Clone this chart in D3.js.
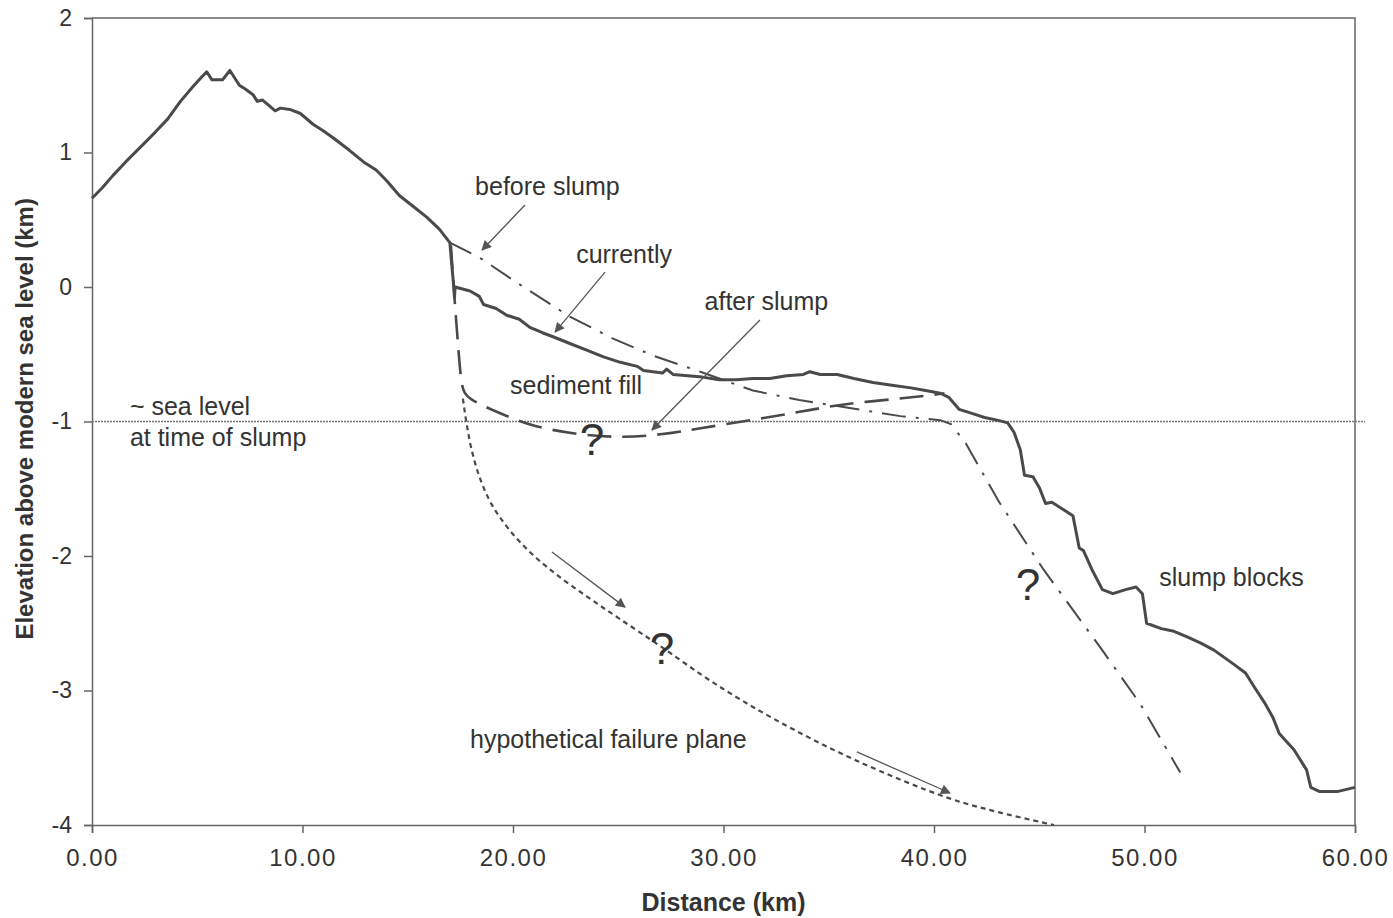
<!DOCTYPE html>
<html>
<head>
<meta charset="utf-8">
<script src="https://cdn.jsdelivr.net/npm/d3@7"></script>
<style>
  body { margin: 0; background: #fff; }
  svg { display: block; }
  text { font-family: "Liberation Sans", Arial, sans-serif; fill: #333; }
</style>
</head>
<body>
<svg width="1393" height="918"></svg>
<script>
const width = 1393;
const height = 918;
const margin = { top: 18, right: 38, bottom: 93, left: 92 };

// tick values
const xTicks = [0, 10, 20, 30, 40, 50, 60];
const yTicks = [-4, -3, -2, -1, 0, 1, 2];

// current topography [distance km, elevation km]
const currentProfile = [
  [0, 0.66], [0.5, 0.74], [1, 0.83], [1.6, 0.93], [2.3, 1.04], [3, 1.15],
  [3.6, 1.25], [4.2, 1.38], [4.8, 1.49], [5.2, 1.56], [5.45, 1.6], [5.7, 1.54],
  [6.2, 1.54], [6.55, 1.61], [7.0, 1.5], [7.3, 1.47], [7.65, 1.43], [7.85, 1.38],
  [8.1, 1.39], [8.4, 1.35], [8.7, 1.31], [8.95, 1.33], [9.4, 1.32], [9.9, 1.29],
  [10.5, 1.21], [11.0, 1.16], [11.45, 1.11], [12.2, 1.02], [12.9, 0.93], [13.5, 0.87],
  [14.0, 0.79], [14.6, 0.68], [15.25, 0.6], [15.9, 0.52], [16.5, 0.43], [17.0, 0.33],
  [17.1, 0.15], [17.2, -0.02], [17.22, -0.08], [17.25, 0.0], [17.96, -0.03], [18.4, -0.07],
  [18.6, -0.13], [19.2, -0.16], [19.7, -0.21], [20.3, -0.24], [20.8, -0.3], [21.4, -0.34],
  [21.9, -0.37], [22.7, -0.42], [23.5, -0.47], [24.3, -0.52], [25.1, -0.56], [25.9, -0.59],
  [26.2, -0.62], [27.1, -0.64], [27.3, -0.61], [27.6, -0.65], [28.3, -0.66], [29.0, -0.67],
  [29.8, -0.69], [30.6, -0.69], [31.4, -0.68], [32.2, -0.68], [33.0, -0.66], [33.8, -0.65],
  [34.1, -0.63], [34.6, -0.65], [35.4, -0.65], [36.2, -0.68], [37.1, -0.71], [38.0, -0.73],
  [38.9, -0.75], [39.6, -0.77], [40.3, -0.79], [40.7, -0.82], [41.2, -0.91], [41.8, -0.94],
  [42.4, -0.97], [43.0, -0.99], [43.5, -1.01], [43.8, -1.08], [44.1, -1.21], [44.3, -1.4],
  [44.7, -1.41], [45.0, -1.49], [45.3, -1.61], [45.6, -1.6], [46.1, -1.65], [46.6, -1.7],
  [46.7, -1.78], [46.9, -1.94], [47.1, -1.96], [47.5, -2.1], [48.0, -2.25], [48.5, -2.28],
  [49.1, -2.25], [49.6, -2.23], [49.9, -2.28], [50.1, -2.5], [50.8, -2.54], [51.4, -2.56],
  [52.0, -2.6], [52.7, -2.65], [53.3, -2.7], [54.2, -2.8], [54.8, -2.87], [55.2, -2.97],
  [55.7, -3.09], [56.1, -3.2], [56.4, -3.32], [57.1, -3.44], [57.7, -3.59], [57.9, -3.72],
  [58.3, -3.75], [59.2, -3.75], [60.0, -3.72]
];

// reconstructed surface before the slump (dash-dot)
const beforeSlump = [
  [17.0, 0.33], [18.4, 0.22], [20.5, 0.0], [22.7, -0.22], [24.7, -0.38], [26.65, -0.51],
  [28.9, -0.63], [31.4, -0.77], [33.6, -0.84], [36.0, -0.9], [38.4, -0.96], [40.3, -0.99],
  [40.8, -1.02], [41.5, -1.16], [43.1, -1.6], [45.2, -2.1], [47.9, -2.68], [49.8, -3.1],
  [51.7, -3.61]
];

// surface just after the slump (long dashes)
const afterSlump = [
  [17.05, 0.31], [17.2, -0.05], [17.4, -0.45], [17.55, -0.75], [17.8, -0.83], [19.4, -0.94],
  [20.95, -1.04], [23.2, -1.1], [25.1, -1.12], [27.0, -1.1], [28.9, -1.05], [31.3, -0.99],
  [33.6, -0.93], [35.6, -0.87], [38.4, -0.83], [40.1, -0.8], [40.5, -0.79]
];

// hypothetical failure plane (short dashes)
const failurePlane = [
  [17.62, -0.83], [17.8, -1.02], [18.05, -1.22], [18.45, -1.43], [19.0, -1.62],
  [19.8, -1.8], [20.8, -1.97], [22.0, -2.13], [23.5, -2.3], [25.0, -2.46], [27.0, -2.67],
  [29.5, -2.94], [32.5, -3.22], [36.3, -3.52], [40.7, -3.8], [43.2, -3.91], [45.7, -4.0]
];

// sea level at time of slump
const seaLevel = -1;

// annotation arrows [x1, y1, x2, y2] in data units
const arrows = [
  [20.57, 0.61, 18.53, 0.275],
  [24.37, 0.11, 22.0, -0.335],
  [31.73, -0.245, 26.6, -1.063],
  [21.85, -1.97, 25.32, -2.38],
  [36.34, -3.457, 40.76, -3.762]
];

// text labels [text, x, y]
const labels = [
  ["before slump", 18.2, 0.684],
  ["currently", 23.0, 0.178],
  ["after slump", 29.1, -0.171],
  ["sediment fill", 19.86, -0.796],
  ["~ sea level", 1.8, -0.95],
  ["at time of slump", 1.8, -1.18],
  ["slump blocks", 50.7, -2.22],
  ["hypothetical failure plane", 17.96, -3.43]
];

const questionMarks = [[23.75, -1.25], [44.47, -2.33], [27.08, -2.8]];

const svg = d3.select("svg");

const x = d3.scaleLinear().domain([0, 60]).range([margin.left, width - margin.right]);
const y = d3.scaleLinear().domain([-4, 2]).range([height - margin.bottom, margin.top]);

const lineColor = "#4a4a4a";

// frame (top and right)
svg.append("path")
  .attr("d", `M${x(0)},${y(2)}H${x(60)}V${y(-4)}`)
  .attr("fill", "none")
  .attr("stroke", "#666")
  .attr("stroke-width", 1.5);

// x axis
const xAxis = svg.append("g")
  .attr("transform", `translate(0,${y(-4)})`)
  .call(d3.axisBottom(x).tickValues(xTicks).tickFormat(d3.format(".2f")).tickSize(8).tickPadding(16));
xAxis.selectAll("text")
  .style("font-size", "24px")
  .style("letter-spacing", "1.5px")
  .attr("fill", "#333");

// y axis
const yAxis = svg.append("g")
  .attr("transform", `translate(${x(0)},0)`)
  .call(d3.axisLeft(y).tickValues(yTicks).tickFormat((d) => String(d)).tickSize(8).tickPadding(12));
yAxis.selectAll("text").style("font-size", "23px").attr("fill", "#333");

svg.selectAll(".domain, .tick line").attr("stroke", "#666").attr("stroke-width", 1.5);

// axis titles
svg.append("text")
  .attr("x", x(30))
  .attr("y", 911)
  .attr("text-anchor", "middle")
  .style("font-size", "25px")
  .style("font-weight", "bold")
  .text("Distance (km)");

svg.append("text")
  .attr("transform", `translate(33,${y(-0.98)}) rotate(-90)`)
  .attr("text-anchor", "middle")
  .style("font-size", "24px")
  .style("font-weight", "bold")
  .text("Elevation above modern sea level (km)");

// sea level line
svg.append("line")
  .attr("x1", x(0)).attr("x2", x(60) + 10)
  .attr("y1", y(seaLevel)).attr("y2", y(seaLevel))
  .attr("stroke", "#777")
  .attr("stroke-width", 1.5)
  .attr("stroke-dasharray", "2,1");

const line = d3.line().x((d) => x(d[0])).y((d) => y(d[1]));

svg.append("path")
  .datum(failurePlane)
  .attr("d", line.curve(d3.curveCatmullRom))
  .attr("fill", "none")
  .attr("stroke", lineColor)
  .attr("stroke-width", 2.2)
  .attr("stroke-dasharray", "5,4");

svg.append("path")
  .datum(afterSlump)
  .attr("d", line.curve(d3.curveBasis))
  .attr("fill", "none")
  .attr("stroke", lineColor)
  .attr("stroke-width", 2.6)
  .attr("stroke-dasharray", "24,11");

svg.append("path")
  .datum(beforeSlump)
  .attr("d", line.curve(d3.curveLinear))
  .attr("fill", "none")
  .attr("stroke", lineColor)
  .attr("stroke-width", 2)
  .attr("stroke-dasharray", "24,10,3,10");

svg.append("path")
  .datum(currentProfile)
  .attr("d", line.curve(d3.curveLinear))
  .attr("fill", "none")
  .attr("stroke", lineColor)
  .attr("stroke-width", 3)
  .attr("stroke-linejoin", "round");

// arrowheads
svg.append("defs").append("marker")
  .attr("id", "head")
  .attr("viewBox", "0 0 10 10")
  .attr("refX", 9).attr("refY", 5)
  .attr("markerWidth", 14).attr("markerHeight", 10)
  .attr("markerUnits", "userSpaceOnUse")
  .attr("orient", "auto")
  .append("path")
  .attr("d", "M0,0L10,5L0,10Z")
  .attr("fill", "#555");

svg.append("g")
  .selectAll("line")
  .data(arrows)
  .enter()
  .append("line")
  .attr("x1", (d) => x(d[0]))
  .attr("y1", (d) => y(d[1]))
  .attr("x2", (d) => x(d[2]))
  .attr("y2", (d) => y(d[3]))
  .attr("stroke", "#555")
  .attr("stroke-width", 1.3)
  .attr("marker-end", "url(#head)");

// labels
svg.append("g")
  .selectAll("text")
  .data(labels)
  .enter()
  .append("text")
  .attr("x", (d) => x(d[1]))
  .attr("y", (d) => y(d[2]))
  .style("font-size", "25px")
  .text((d) => d[0]);

svg.append("g")
  .selectAll("text")
  .data(questionMarks)
  .enter()
  .append("text")
  .attr("x", (d) => x(d[0]))
  .attr("y", (d) => y(d[1]))
  .attr("text-anchor", "middle")
  .style("font-size", "44px")
  .text("?");
</script>
</body>
</html>
